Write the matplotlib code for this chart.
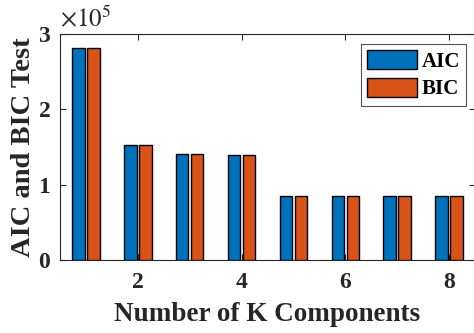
import matplotlib
matplotlib.use("Agg")
import matplotlib.pyplot as plt
import numpy as np
from matplotlib.ticker import FuncFormatter

plt.rcParams['font.family'] = ['Liberation Serif', 'DejaVu Serif']
plt.rcParams['mathtext.fontset'] = 'stix'

k_components = [1, 2, 3, 4, 5, 6, 7, 8]
aic = [281000, 152000, 141000, 139000, 85000, 85000, 85000, 85000]
bic = [281000, 152000, 141000, 139000, 85000, 85000, 85000, 85000]
series_names = ["AIC", "BIC"]
x_ticks = [2, 4, 6, 8]
y_ticks = [0, 100000, 200000, 300000]

blue = "#0072BD"
orange = "#D95319"
axcol = "#262626"

fig = plt.figure(figsize=(4.74, 3.33), dpi=100)
ax = fig.add_axes([60/474, (333-260)/333, (475-60)/474, (260-34)/333])

x = np.array(k_components, dtype=float)
w = 0.24
off = 0.145
ax.bar(x - off, aic, width=w, color=blue, edgecolor="black", linewidth=1.0, label=series_names[0], zorder=3)
ax.bar(x + off, bic, width=w, color=orange, edgecolor="black", linewidth=1.0, label=series_names[1], zorder=3)

ax.set_xlim(0.5, 8.5)
ax.set_ylim(0, 300000)
ax.set_xticks(x_ticks)
ax.set_yticks(y_ticks)
ax.yaxis.set_major_formatter(FuncFormatter(lambda v, p: f"{v/1e5:g}"))

for s in ax.spines.values():
    s.set_color(axcol)
    s.set_linewidth(0.8)

ax.tick_params(direction="in", top=True, right=True, length=4, width=0.8, color=axcol,
               labelsize=17, labelcolor=axcol)
ax.tick_params(axis="x", pad=9)
ax.tick_params(axis="y", pad=7)
for lab in ax.get_xticklabels() + ax.get_yticklabels():
    lab.set_fontweight("bold")

ax.set_xlabel("Number of K Components", fontsize=19.5, fontweight="bold", color=axcol, labelpad=6)
ax.set_ylabel("AIC and BIC Test", fontsize=20.5, fontweight="bold", color=axcol, labelpad=2)

ax.text(0.0, 1.01, r"$\times10^{5}$", transform=ax.transAxes, fontsize=18, color=axcol,
        ha="left", va="bottom")

leg = ax.legend(loc="upper right", bbox_to_anchor=((466-60)/415, (260-44)/226),
                prop={"weight": "bold", "size": 15}, frameon=True, fancybox=False,
                handlelength=2.4, handleheight=1.0, handletextpad=0.2, borderpad=0.3,
                labelspacing=0.3, borderaxespad=0)
leg.get_frame().set_edgecolor(axcol)
leg.get_frame().set_linewidth(0.8)

fig.savefig("out.png", dpi=100)
